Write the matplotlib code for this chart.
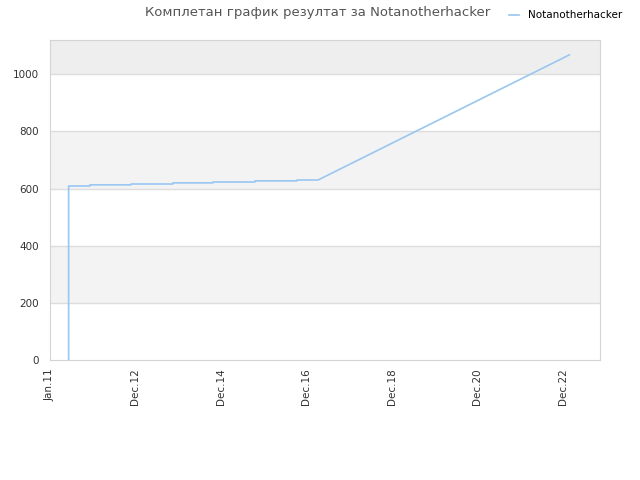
import numpy as np
import pandas as pd
import matplotlib
matplotlib.use('Agg')
from matplotlib import pyplot as plt

player = 'Notanotherhacker'

# score jumps (step part of the history)
step_dates = ['2011-06-09', '2011-12-08', '2012-11-23', '2013-11-16',
              '2014-10-23', '2015-10-17', '2016-10-10']
step_scores = [609, 613, 616, 620, 623, 627, 630]
# after that the score climbs steadily
ramp_dates = ['2017-04-08', '2023-02-22']
ramp_scores = [630, 1068]

tick_labels = ['Jan.11', 'Dec.12', 'Dec.14', 'Dec.16', 'Dec.18', 'Dec.20', 'Dec.22']

# build the step path
xs, ys = [], []
prev = 0
for d, s in zip(pd.to_datetime(step_dates), step_scores):
    xs += [d, d]
    ys += [prev, s]
    prev = s
xs += list(pd.to_datetime(ramp_dates))
ys += ramp_scores

start = pd.Timestamp('2011-01-01')
ticks = [start + pd.Timedelta(days=730 * k) for k in range(len(tick_labels))]

fig = plt.figure(figsize=(6.4, 4.8), dpi=100)
ax = fig.add_axes([50 / 640, 120 / 480, 550 / 640, 320 / 480])

# background bands
ax.axhspan(1000, 1120, color='#eeeeee', zorder=0, lw=0)
ax.axhspan(600, 800, color='#f3f3f3', zorder=0, lw=0)
ax.axhspan(200, 400, color='#f3f3f3', zorder=0, lw=0)
for yv in [200, 400, 600, 800, 1000]:
    ax.axhline(yv, color='#dddddd', lw=1, zorder=1)

ax.plot(xs, ys, color='#99c6f3', lw=1.2, label=player, zorder=3)

ax.set_xlim(start, start + pd.Timedelta(days=4696))
ax.set_ylim(0, 1120)
ax.set_yticks([0, 200, 400, 600, 800, 1000])
ax.set_xticks(ticks)
ax.set_xticklabels(tick_labels, rotation=90)

for s in ax.spines.values():
    s.set_color('#d4d4d4')
ax.tick_params(axis='both', length=0, labelsize=7.5, colors='#333333')
ax.tick_params(axis='y', pad=8)
ax.tick_params(axis='x', pad=6)

fig.suptitle('Комплетан график резултат за Notanotherhacker', x=0.496, y=0.988,
             fontsize=9.5, color='#555555')
fig.legend(loc='upper right', bbox_to_anchor=(0.988, 1.0), frameon=False,
           fontsize=7.5, handlelength=1.0, borderaxespad=0.6)

fig.savefig('out.png', dpi=100)
